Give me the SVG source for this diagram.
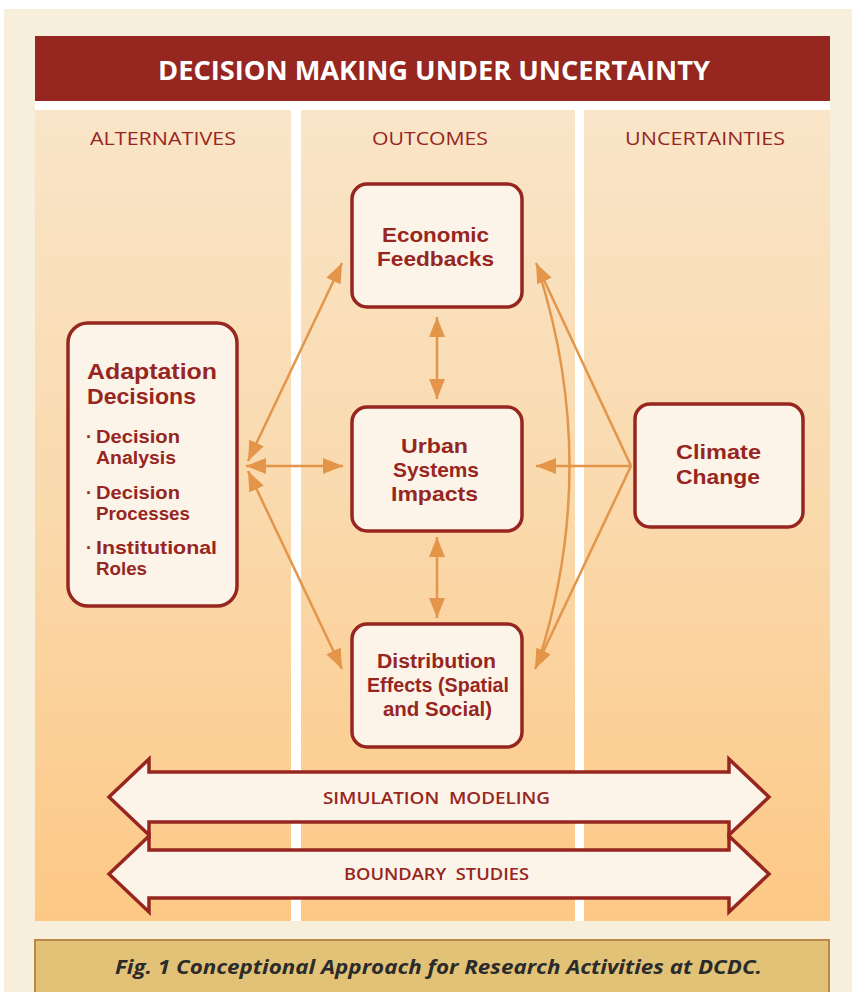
<svg xmlns="http://www.w3.org/2000/svg" width="856" height="992" viewBox="0 0 856 992">
<defs>
<linearGradient id="col" x1="0" y1="110" x2="0" y2="921" gradientUnits="userSpaceOnUse">
<stop offset="0" stop-color="#F9E5C8"/>
<stop offset="0.5" stop-color="#FAD9AC"/>
<stop offset="1" stop-color="#FDC885"/>
</linearGradient>
<marker id="ah" viewBox="0 0 20 16" refX="20" refY="8" markerWidth="20" markerHeight="16" markerUnits="userSpaceOnUse" orient="auto-start-reverse">
<path d="M0,0 L20,8 L0,16 z" fill="#E3954A"/>
</marker>
<style>
.node{fill:#FCF4E8;stroke:#96261F;stroke-width:3.5}
.nt{font-family:"Liberation Sans","Open Sans",sans-serif;font-weight:700;fill:#96261F}
.hd{font-family:"Open Sans","Liberation Sans",sans-serif;font-weight:400;fill:#96261F;font-size:19px}
.con{stroke:#E3954A;stroke-width:2.5;fill:none}
.band{fill:#FCF4E8;stroke:#96261F;stroke-width:3.5;stroke-linejoin:miter}
.bt{font-family:"Open Sans","Liberation Sans",sans-serif;font-weight:600;fill:#96261F;font-size:17px}
</style>
</defs>
<rect x="0" y="0" width="856" height="992" fill="#FFFFFF"/>
<rect x="4" y="9" width="848" height="983" fill="#F7EEDC"/>
<rect x="35" y="36" width="795" height="65" fill="#962620"/>
<rect x="35" y="101" width="795" height="9" fill="#FFFFFF"/>
<rect x="291" y="101" width="10" height="820" fill="#FFFFFF"/>
<rect x="575" y="101" width="9" height="820" fill="#FFFFFF"/>
<rect x="35" y="110" width="256" height="811" fill="url(#col)"/>
<rect x="301" y="110" width="274" height="811" fill="url(#col)"/>
<rect x="584" y="110" width="246" height="811" fill="url(#col)"/>
<text x="158" y="80" font-family="'Open Sans','Liberation Sans',sans-serif" font-weight="700" font-size="27" fill="#FFFFFF" textLength="552" lengthAdjust="spacingAndGlyphs">DECISION MAKING UNDER UNCERTAINTY</text>
<text class="hd" x="90" y="145" textLength="146" lengthAdjust="spacingAndGlyphs">ALTERNATIVES</text>
<text class="hd" x="372" y="145" textLength="116" lengthAdjust="spacingAndGlyphs">OUTCOMES</text>
<text class="hd" x="625" y="145" textLength="160" lengthAdjust="spacingAndGlyphs">UNCERTAINTIES</text>

<g id="connectors">
<line class="con" x1="248" y1="461" x2="342" y2="263" marker-start="url(#ah)" marker-end="url(#ah)"/>
<line class="con" x1="246" y1="466" x2="343" y2="466" marker-start="url(#ah)" marker-end="url(#ah)"/>
<line class="con" x1="248" y1="471" x2="342" y2="669" marker-start="url(#ah)" marker-end="url(#ah)"/>
<line class="con" x1="437" y1="317" x2="437" y2="399" marker-start="url(#ah)" marker-end="url(#ah)"/>
<line class="con" x1="437" y1="537" x2="437" y2="618" marker-start="url(#ah)" marker-end="url(#ah)"/>
<line class="con" x1="631" y1="466" x2="536" y2="263" marker-end="url(#ah)"/>
<line class="con" x1="631" y1="466" x2="536" y2="466" marker-end="url(#ah)"/>
<line class="con" x1="631" y1="466" x2="535" y2="669" marker-end="url(#ah)"/>
<path class="con" d="M539,272 Q600,466 539,660"/>
</g>

<g id="adaptation">
<rect class="node" x="68" y="323" width="169" height="283" rx="20"/>
<text class="nt" font-size="21.5"><tspan x="87" y="379" textLength="130" lengthAdjust="spacingAndGlyphs">Adaptation</tspan><tspan x="87" y="404" textLength="109" lengthAdjust="spacingAndGlyphs">Decisions</tspan></text>
<text class="nt" font-size="18"><tspan x="86" y="443">·</tspan><tspan x="96" y="443" textLength="84" lengthAdjust="spacingAndGlyphs">Decision</tspan><tspan x="96" y="464" textLength="80" lengthAdjust="spacingAndGlyphs">Analysis</tspan></text>
<text class="nt" font-size="18"><tspan x="86" y="499">·</tspan><tspan x="96" y="499" textLength="84" lengthAdjust="spacingAndGlyphs">Decision</tspan><tspan x="96" y="520" textLength="94" lengthAdjust="spacingAndGlyphs">Processes</tspan></text>
<text class="nt" font-size="18"><tspan x="86" y="554">·</tspan><tspan x="96" y="554" textLength="121" lengthAdjust="spacingAndGlyphs">Institutional</tspan><tspan x="96" y="575" textLength="51" lengthAdjust="spacingAndGlyphs">Roles</tspan></text>
</g>

<g id="economic">
<rect class="node" x="352" y="184" width="170" height="123" rx="15"/>
<text class="nt" font-size="20.5"><tspan x="382" y="242" textLength="107" lengthAdjust="spacingAndGlyphs">Economic</tspan><tspan x="377" y="266" textLength="117" lengthAdjust="spacingAndGlyphs">Feedbacks</tspan></text>
</g>

<g id="urban">
<rect class="node" x="352" y="407" width="170" height="124" rx="15"/>
<text class="nt" font-size="20.5"><tspan x="401" y="453" textLength="67" lengthAdjust="spacingAndGlyphs">Urban</tspan><tspan x="393" y="477" textLength="86" lengthAdjust="spacingAndGlyphs">Systems</tspan><tspan x="391" y="501" textLength="87" lengthAdjust="spacingAndGlyphs">Impacts</tspan></text>
</g>

<g id="distribution">
<rect class="node" x="352" y="624" width="170" height="123" rx="15"/>
<text class="nt" font-size="19.5"><tspan x="377" y="668" textLength="119" lengthAdjust="spacingAndGlyphs">Distribution</tspan><tspan x="367" y="692" textLength="142" lengthAdjust="spacingAndGlyphs">Effects (Spatial</tspan><tspan x="383" y="716" textLength="109" lengthAdjust="spacingAndGlyphs">and Social)</tspan></text>
</g>

<g id="climate">
<rect class="node" x="635" y="404" width="168" height="123" rx="15"/>
<text class="nt" font-size="20.5"><tspan x="676" y="459" textLength="85" lengthAdjust="spacingAndGlyphs">Climate</tspan><tspan x="676" y="484" textLength="84" lengthAdjust="spacingAndGlyphs">Change</tspan></text>
</g>

<g id="boundary">
<polygon class="band" points="149,850 729,850 729,836 769,874 729,912 729,898 149,898 149,912 109,874 149,836"/>
<text class="bt" x="344" y="880" textLength="185" lengthAdjust="spacingAndGlyphs" xml:space="preserve">BOUNDARY  STUDIES</text>
</g>

<g id="simulation">
<polygon class="band" points="149,772 729,772 729,759 769,797 729,835 729,822 149,822 149,835 109,797 149,759"/>
<text class="bt" x="323" y="804" textLength="227" lengthAdjust="spacingAndGlyphs" xml:space="preserve">SIMULATION  MODELING</text>
</g>

<g id="caption">
<rect x="35" y="940" width="794" height="56" fill="#E2C277" stroke="#B8894A" stroke-width="2"/>
<text x="115" y="974" font-family="'Open Sans','Liberation Sans',sans-serif" font-weight="700" font-style="italic" font-size="20" fill="#2B2B2B" textLength="647" lengthAdjust="spacingAndGlyphs">Fig. 1 Conceptional Approach for Research Activities at DCDC.</text>
</g>
</svg>
